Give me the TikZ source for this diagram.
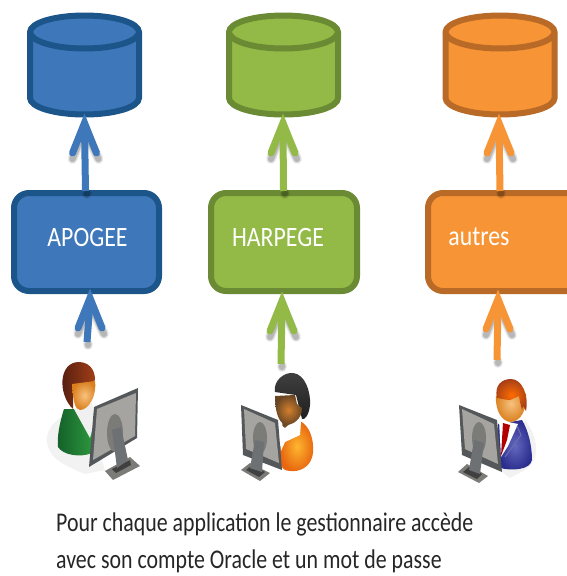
\documentclass[tikz,border=0pt]{standalone}
\usepackage{fontspec}
\setmainfont{Carlito}
\newfontfamily\boxfont[FakeStretch=0.85]{Carlito}
\newfontfamily\capfont[FakeStretch=0.81]{Carlito}
\usetikzlibrary{arrows.meta,calc}
\definecolor{bluef}{HTML}{3F78BA}\definecolor{blued}{HTML}{1C5589}
\definecolor{greenf}{HTML}{93B947}\definecolor{greend}{HTML}{6B8A34}
\definecolor{orangef}{HTML}{F79436}\definecolor{oranged}{HTML}{B96A26}
\definecolor{hairR}{HTML}{A63F18}\definecolor{hairRd}{HTML}{4F1D10}
\definecolor{faceL}{HTML}{F8C27E}\definecolor{faceD}{HTML}{D97F1E}
\definecolor{jadeL}{HTML}{2E9A3E}\definecolor{jadeD}{HTML}{14602A}
\definecolor{orgL}{HTML}{FDB62F}\definecolor{orgD}{HTML}{E8670F}
\definecolor{suitL}{HTML}{6468BE}\definecolor{suitD}{HTML}{2B2E8E}
\definecolor{monD}{HTML}{55585A}\definecolor{monL}{HTML}{A5A4A0}\definecolor{monM}{HTML}{7B7B78}
\tikzset{
 appbox/.style={rectangle,rounded corners=15pt,line width=6pt,minimum height=98pt,text=white,text depth=0pt,font=\boxfont\fontsize{28}{28}\selectfont},
 dbanchor/.style={rectangle,minimum width=111pt,minimum height=104pt,inner sep=0pt},
 flow/.style={line width=7pt,line cap=butt,line join=round},
 flowhead/.style={line width=7pt,line cap=round,line join=miter},
 caption/.style={anchor=west,inner sep=0pt,font=\capfont\fontsize{27}{27}\selectfont,text=black!85}
}
\newcommand{\dbase}[4]{%
 \node[dbanchor] (#1) at (#2,65) {};
 \draw[fill=#3,draw=#4,line width=6pt] (#2-54.5,32) -- (#2-54.5,98) arc[x radius=54.5,y radius=-16.5,start angle=180,end angle=360] -- (#2+54.5,32) arc[x radius=54.5,y radius=-16.5,start angle=0,end angle=180] -- cycle;
 \draw[draw=#4,line width=6pt] (#2-54.5,32) arc[x radius=54.5,y radius=-16.5,start angle=180,end angle=360];
}
\newcommand{\uparr}[3]{%
 \foreach \o/\w in {.07/10,.10/8,.14/6}{
  \path[draw=black,opacity=\o,line width=\w pt,line cap=round,line join=round]
   ($(#2)+(-12,42)$) -- ($(#2)+(0,12)$) -- ($(#2)+(14,42)$);
  \path[draw=black,opacity=\o,line width=\w pt,line cap=round] ($(#1)+(1,3)$) -- ($(#1)+(1,2)$);
 }
 \draw[#3,flow] (#1) -- ($(#2)+(0,10)$);
 \draw[#3,flowhead] ($(#2)+(-12,36)$) -- ($(#2)+(0,6)$) -- ($(#2)+(12,36)$);
}
\begin{document}
\begin{tikzpicture}[x=1pt,y=-1pt]
\useasboundingbox (0,0) rectangle (566,576);

\dbase{dbA}{84.5}{bluef}{blued}
\dbase{dbB}{283.5}{greenf}{greend}
\dbase{dbC}{500}{orangef}{oranged}

\node[appbox,fill=bluef,draw=blued,minimum width=145pt] (boxA) at (86.5,242) {\raisebox{10pt}{\hspace*{2pt}APOGEE}};
\node[appbox,fill=greenf,draw=greend,minimum width=146pt] (boxB) at (284,242) {\raisebox{10pt}{\hspace*{-12pt}HARPEGE}};
\node[appbox,fill=orangef,draw=oranged,minimum width=180pt] (boxC) at (518,242) {\raisebox{10pt}{\hspace*{-78pt}autres}};

\coordinate (a1) at (85.5,191); \coordinate (a2) at (283.5,191); \coordinate (a3) at (500,191);
\coordinate (tA) at (84.5,117); \coordinate (tB) at (283,117); \coordinate (tC) at (499,117);
\coordinate (b1) at (87,342); \coordinate (b2) at (281,364); \coordinate (b3) at (497,360);
\coordinate (uA) at (90,292); \coordinate (uB) at (282,295); \coordinate (uC) at (498,293);
\uparr{a1}{tA}{bluef}
\uparr{a2}{tB}{greenf}
\uparr{a3}{tC}{orangef}
\uparr{b1}{uA}{bluef}
\uparr{b2}{uB}{greenf}
\uparr{b3}{uC}{orangef}

% ---- person 1
\fill[black!5] (60,418) .. controls (45,428) and (42,445) .. (55,458) .. controls (65,466) and (75,470) .. (85,474) -- (105,470) -- (90,420) -- cycle;
\shade[left color=jadeD,right color=jadeL] (64,409) .. controls (59,425) and (57,438) .. (58,447) .. controls (63,455) and (80,458) .. (92,453) -- (95,420) -- (75,409) -- cycle;
\fill[black!6] (74,409) -- (92,403) -- (95,420) -- (90,438) -- cycle;
\shade[left color=hairRd,right color=hairR] (73,409) .. controls (58,395) and (58,362) .. (79,362) .. controls (92,362) and (97,375) .. (94,383) -- (73,385) -- cycle;
\shade[inner color=faceL,outer color=faceD] (72,384) -- (95,381) .. controls (97,397) and (88,410) .. (80,410) .. controls (75,410) and (73,400) .. (72,384) -- cycle;
\fill[monM] (105,471) -- (130,457) -- (140,466) -- (113,480) -- cycle;
\fill[black!75] (112,469) -- (130,460) -- (131,465) -- (116,473) -- cycle;
\fill[monD] (89,467) -- (94,407) -- (138,388) -- (137,438) -- cycle;
\fill[monL] (93,460) -- (97,409) -- (136,393) -- (135,436) -- cycle;
\fill[monM] (115,433) ellipse[x radius=8,y radius=19];
\fill[monD!85] (112,430) -- (121,427) -- (128,460) -- (117,468) -- cycle;

% ---- person 2
\shade[inner color=orgL,outer color=orgD] (281,440) -- (300,421) .. controls (310,426) and (314,440) .. (313,452) .. controls (312,468) and (298,472) .. (291,471) .. controls (285,471) and (281,469) .. (280,462) -- cycle;
\fill[brown!60!black] (282,415) -- (298,415) -- (300,423) -- (283,440) -- cycle;
\fill[white] (278,423) -- (285,428) -- (298,417) -- (301,422) -- (300,435) -- (285,442) -- (281,451) -- cycle;
\shade[top color=black!75,bottom color=black!88] (275,392) .. controls (273,380) and (285,372) .. (293,373) .. controls (305,374) and (311,392) .. (310,405) .. controls (309,415) and (305,420) .. (302,419) -- (296,395) -- cycle;
\shade[inner color=brown!70!orange,outer color=brown!55!black] (275,396) -- (295,395) -- (297,404) -- (302,408) .. controls (302,420) and (292,425) .. (286,425) .. controls (278,423) and (275,410) .. (275,396) -- cycle;
\fill[monD] (241,405) -- (278,420) -- (282,470) -- (243,455) -- cycle;
\fill[monL] (244,409) -- (275,423) -- (279,463) -- (246,449) -- cycle;
\fill[monM] (260,438) ellipse[x radius=7,y radius=16];
\fill[monM] (241,470) -- (250,463) -- (270,473) -- (260,481) -- cycle;
\fill[black!75] (246,470) -- (252,465) -- (265,472) -- (259,477) -- cycle;
\fill[monD!85] (255,440) -- (264,442) -- (262,472) -- (250,468) -- cycle;

% ---- person 3
\fill[black!5] (525,420) .. controls (540,440) and (540,460) .. (525,470) -- (510,478) -- (500,470) -- cycle;
\shade[inner color=suitL,outer color=suitD] (498,424) -- (522,420) .. controls (528,430) and (532,445) .. (532,460) .. controls (530,470) and (512,471) .. (500,468) -- cycle;
\fill[white] (499,420) -- (518,424) -- (508,446) -- (501,457) -- cycle;
\fill[red!70!black] (503,423) -- (510,425) -- (507,440) -- (501,456) -- cycle;
\draw[suitD!70,line width=1pt] (517,426) -- (521,435) -- (505,457);
\shade[inner color=faceL,outer color=faceD] (496,396) .. controls (495,412) and (503,422) .. (511,422) .. controls (521,421) and (527,410) .. (526,394) -- (510,385) -- cycle;
\shade[inner color=orange!85!red,outer color=hairR] (497,398) .. controls (494,385) and (502,379) .. (511,379) .. controls (522,379) and (529,395) .. (526,411) -- (523,406) -- (522,410) -- (520,402) -- (519,396) -- (510,400) .. controls (505,400) and (500,398) .. (497,398) -- cycle;
\fill[monD] (459,405) -- (497,420) -- (502,472) -- (462,455) -- cycle;
\fill[monL] (462,409) -- (494,424) -- (498,464) -- (465,449) -- cycle;
\fill[monM] (479,438) ellipse[x radius=7,y radius=16];
\fill[monM] (458,472) -- (467,464) -- (488,476) -- (479,483) -- cycle;
\fill[black!75] (463,472) -- (469,467) -- (482,474) -- (477,479) -- cycle;
\fill[monD!85] (474,440) -- (484,443) -- (480,474) -- (469,470) -- cycle;

\node[caption] (line1) at (56,524) {Pour chaque application le gestionnaire accède};
\node[caption] (line2) at (56,561) {avec son compte Oracle et un mot de passe};
\end{tikzpicture}
\end{document}
